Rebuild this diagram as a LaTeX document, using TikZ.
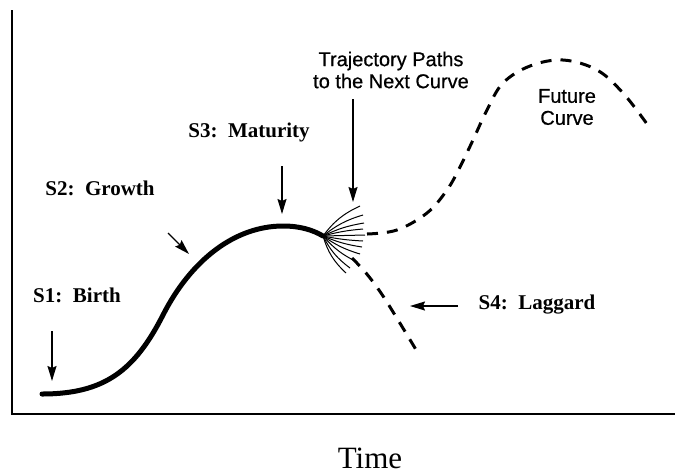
\documentclass[tikz,border=0pt]{standalone}
\usepackage{fontspec}
\setmainfont{Liberation Serif}
\setsansfont{Liberation Sans}
\usetikzlibrary{arrows.meta}
\begin{document}
\begin{tikzpicture}[x=1pt,y=-1pt,
  stage/.style={font=\fontsize{21}{24}\selectfont\bfseries, inner sep=0pt},
  note/.style={font=\sffamily\fontsize{20}{22}\selectfont\addfontfeature{FakeBold=0.6}, align=center, inner sep=0pt},
  pointer/.style={line width=1.4pt, -{Stealth[length=15pt,width=9pt,inset=2pt]}},
  maincurve/.style={line width=5pt, line cap=round},
  futurecurve/.style={line width=3pt, dash pattern=on 11pt off 9pt},
  fan/.style={line width=1pt}]
\useasboundingbox (0,0) rectangle (675,475);
% axes
\coordinate (axtop) at (12,10);
\coordinate (axorig) at (12,414);
\coordinate (axright) at (675,414);
\draw[line width=1.3pt] (axtop) -- (axorig) -- (axright);
\node[font=\fontsize{31}{34}\selectfont, inner sep=0pt, anchor=base] (time) at (370,468) {Time};
% main curve
\coordinate (c0) at (42,394);
\coordinate (c1) at (163,315);
\coordinate (peak) at (283,226);
\coordinate (fo) at (323,236);
\draw[maincurve] (c0) .. controls (105,394) and (135,370) .. (c1)
  .. controls (191,260) and (235,226) .. (peak)
  .. controls (300,226) and (313,230) .. (fo);
% fan
\foreach \ex/\ey/\b in {360/206/14, 363/215/11, 364/223/8, 363/229/5, 365/235/0, 363/241/-4, 362/247/-7, 360/254/-9, 357/262/-11, 350/268/-13, 346/273/-15}{
  \draw[fan] (fo) to[bend left=\b] (\ex,\ey);
}
% future curve
\draw[futurecurve] plot[smooth, tension=0.6] coordinates {(367,234) (397,230) (427,213) (447,190) (460,167) (473,140) (487,110) (503,83) (530,66) (563,60) (597,70) (623,93) (647,124)};
% laggard curve
\draw[futurecurve] plot[smooth, tension=0.6] coordinates {(352,258) (366,273) (381,293) (398,320) (418,353)};
% labels
\node[stage] (s1) at (77,295) {S1:\ \ Birth};
\node[stage] (s2) at (100,188) {S2:\ \ Growth};
\node[stage] (s3) at (249,132) {S3:\ \ Maturity};
\node[stage] (s4) at (537,305) {S4:\ \ Laggard};
\node[note] (traj) at (391,70) {Trajectory Paths\\to the Next Curve};
\node[note] (fut) at (567,107) {Future\\Curve};
% arrows
\coordinate (a1s) at (52,331);
\coordinate (a1e) at (52,381);
\coordinate (a2s) at (168,233);
\coordinate (a2e) at (189,254);
\coordinate (a3s) at (282,166);
\coordinate (a3e) at (282,214);
\coordinate (ats) at (353,99);
\coordinate (ate) at (353,202);
\coordinate (a4s) at (458,306);
\coordinate (a4e) at (410,306);
\draw[pointer] (a1s) -- (a1e);
\draw[pointer] (a2s) -- (a2e);
\draw[pointer] (a3s) -- (a3e);
\draw[pointer] (ats) -- (ate);
\draw[pointer] (a4s) -- (a4e);
\end{tikzpicture}
\end{document}
